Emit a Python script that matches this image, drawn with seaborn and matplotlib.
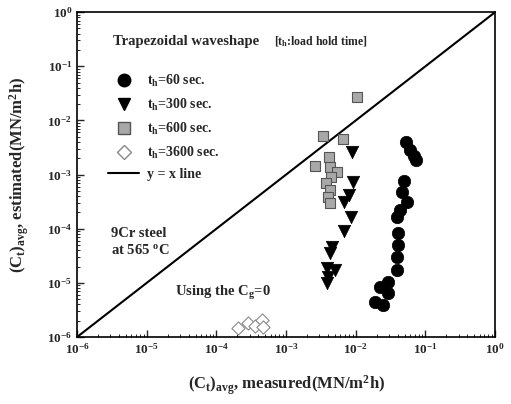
import matplotlib
matplotlib.use("Agg")
import matplotlib.pyplot as plt
from matplotlib.lines import Line2D
import seaborn as sns
import numpy as np
import pandas as pd

# ---- data (log10 values) ----
c60_x = [-1.28, -1.22, -1.165, -1.14, -1.31, -1.34, -1.27, -1.37, -1.41, -1.39, -1.39, -1.41, -1.41, -1.54, -1.65, -1.54, -1.72, -1.61]
c60_y = [-2.40, -2.55, -2.66, -2.73, -3.12, -3.32, -3.51, -3.65, -3.78, -4.08, -4.30, -4.52, -4.76, -4.98, -5.07, -5.18, -5.35, -5.41]
c300_x = [-2.05, -2.04, -2.10, -2.17, -2.07, -2.17, -2.34, -2.37, -2.41, -2.30, -2.40, -2.41]
c300_y = [-2.58, -3.14, -3.38, -3.51, -3.78, -4.04, -4.34, -4.45, -4.72, -4.76, -4.89, -5.00]
c600_x = [-1.98, -2.47, -2.18, -2.38, -2.59, -2.37, -2.27, -2.36, -2.43, -2.37, -2.40, -2.37]
c600_y = [-1.57, -2.29, -2.34, -2.68, -2.84, -2.86, -2.95, -3.04, -3.15, -3.28, -3.41, -3.52]
c3600_x = [-3.69, -3.55, -3.45, -3.35, -3.33]
c3600_y = [-5.83, -5.74, -5.79, -5.68, -5.81]
labels = ["60", "300", "600", "3600"]

frames = []
for lab, xs, ys in zip(labels, [c60_x, c300_x, c600_x, c3600_x], [c60_y, c300_y, c600_y, c3600_y]):
    frames.append(pd.DataFrame({"x": 10 ** np.array(xs), "y": 10 ** np.array(ys), "th": lab}))
df = pd.concat(frames, ignore_index=True)

sns.set_style("white")
plt.rcParams["font.family"] = ["Liberation Serif", "DejaVu Serif"]
plt.rcParams["font.weight"] = "bold"
plt.rcParams["mathtext.fontset"] = "custom"
plt.rcParams["mathtext.rm"] = "Liberation Serif:bold"
plt.rcParams["mathtext.it"] = "Liberation Serif:bold"
plt.rcParams["mathtext.bf"] = "Liberation Serif:bold"
plt.rcParams["mathtext.default"] = "rm"

fig = plt.figure(figsize=(5.11, 4.04), dpi=100)
ax = fig.add_axes([0.151, 0.166, 0.818, 0.804])

styles = {
    "60": dict(marker="o", s=80, color="black", edgecolor="black", linewidth=0.5),
    "300": dict(marker="v", s=80, color="black", edgecolor="black", linewidth=0.5),
    "600": dict(marker="s", s=60, color="#a8a8a8", edgecolor="#555555", linewidth=0.8),
    "3600": dict(marker="D", s=45, color="white", edgecolor="#888888", linewidth=0.8),
}
for lab in labels:
    sub = df[df["th"] == lab]
    sns.scatterplot(data=sub, x="x", y="y", ax=ax, legend=False, zorder=3, **styles[lab])

lim = [1e-6, 1e0]
ax.plot(lim, lim, color="black", lw=1.5, zorder=2)
ax.set_xscale("log")
ax.set_yscale("log")
ax.set_xlim(lim)
ax.set_ylim(lim)
ax.set_xticks([10.0 ** k for k in range(-6, 1)])
ax.set_yticks([10.0 ** k for k in range(-6, 1)])
ax.set_xticklabels([r"$10^{%d}$" % k for k in range(-6, 1)])
ax.set_yticklabels([r"$10^{%d}$" % k for k in range(-6, 1)])
ax.tick_params(which="both", direction="in", bottom=True, left=True, top=False, right=False, labelsize=9.5)
ax.tick_params(which="major", length=5, width=1)
ax.tick_params(which="minor", length=2.5, width=0.7)
for sp in ax.spines.values():
    sp.set_color("black")
    sp.set_linewidth(1.2)

ax.set_xlabel(r"$(\mathrm{C_t})_{\mathrm{avg}}$, measured(MN/m$^2$h)", fontsize=12, fontweight="bold", labelpad=12)
ax.set_ylabel(r"$(\mathrm{C_t})_{\mathrm{avg}}$, estimated(MN/m$^2$h)", fontsize=12, fontweight="bold", labelpad=12)

handles = [
    Line2D([], [], ls="none", marker="o", ms=9, mfc="black", mec="black"),
    Line2D([], [], ls="none", marker="v", ms=9, mfc="black", mec="black"),
    Line2D([], [], ls="none", marker="s", ms=8, mfc="#a8a8a8", mec="#555555"),
    Line2D([], [], ls="none", marker="D", ms=7, mfc="white", mec="#888888"),
    Line2D([], [], color="black", lw=1.5),
]
texts = [r"$t_h$=60 sec.", r"$t_h$=300 sec.", r"$t_h$=600 sec.", r"$t_h$=3600 sec.", "y = x line"]
leg = ax.legend(handles, texts, loc="upper left", bbox_to_anchor=(0.045, 0.85), frameon=False,
                handlelength=2.2, labelspacing=0.55, handletextpad=0.6,
                prop={"family": "Liberation Serif", "weight": "bold", "size": 10})
ax.text(0.085, 0.91, r"Trapezoidal waveshape", transform=ax.transAxes, fontsize=10.5, fontweight="bold", va="center")
ax.text(0.47, 0.91, r"[$t_h$:load hold time]", transform=ax.transAxes, fontsize=8.5, va="center")

ax.text(0.08, 0.292, "9Cr steel\nat 565 $^o$C", transform=ax.transAxes, fontsize=10.5, fontweight="bold",
        va="center", linespacing=1.3)
ax.text(0.234, 0.135, r"Using the C$_g$=0", transform=ax.transAxes, fontsize=10.5, fontweight="bold", va="center")

fig.savefig("out.png", dpi=100)
